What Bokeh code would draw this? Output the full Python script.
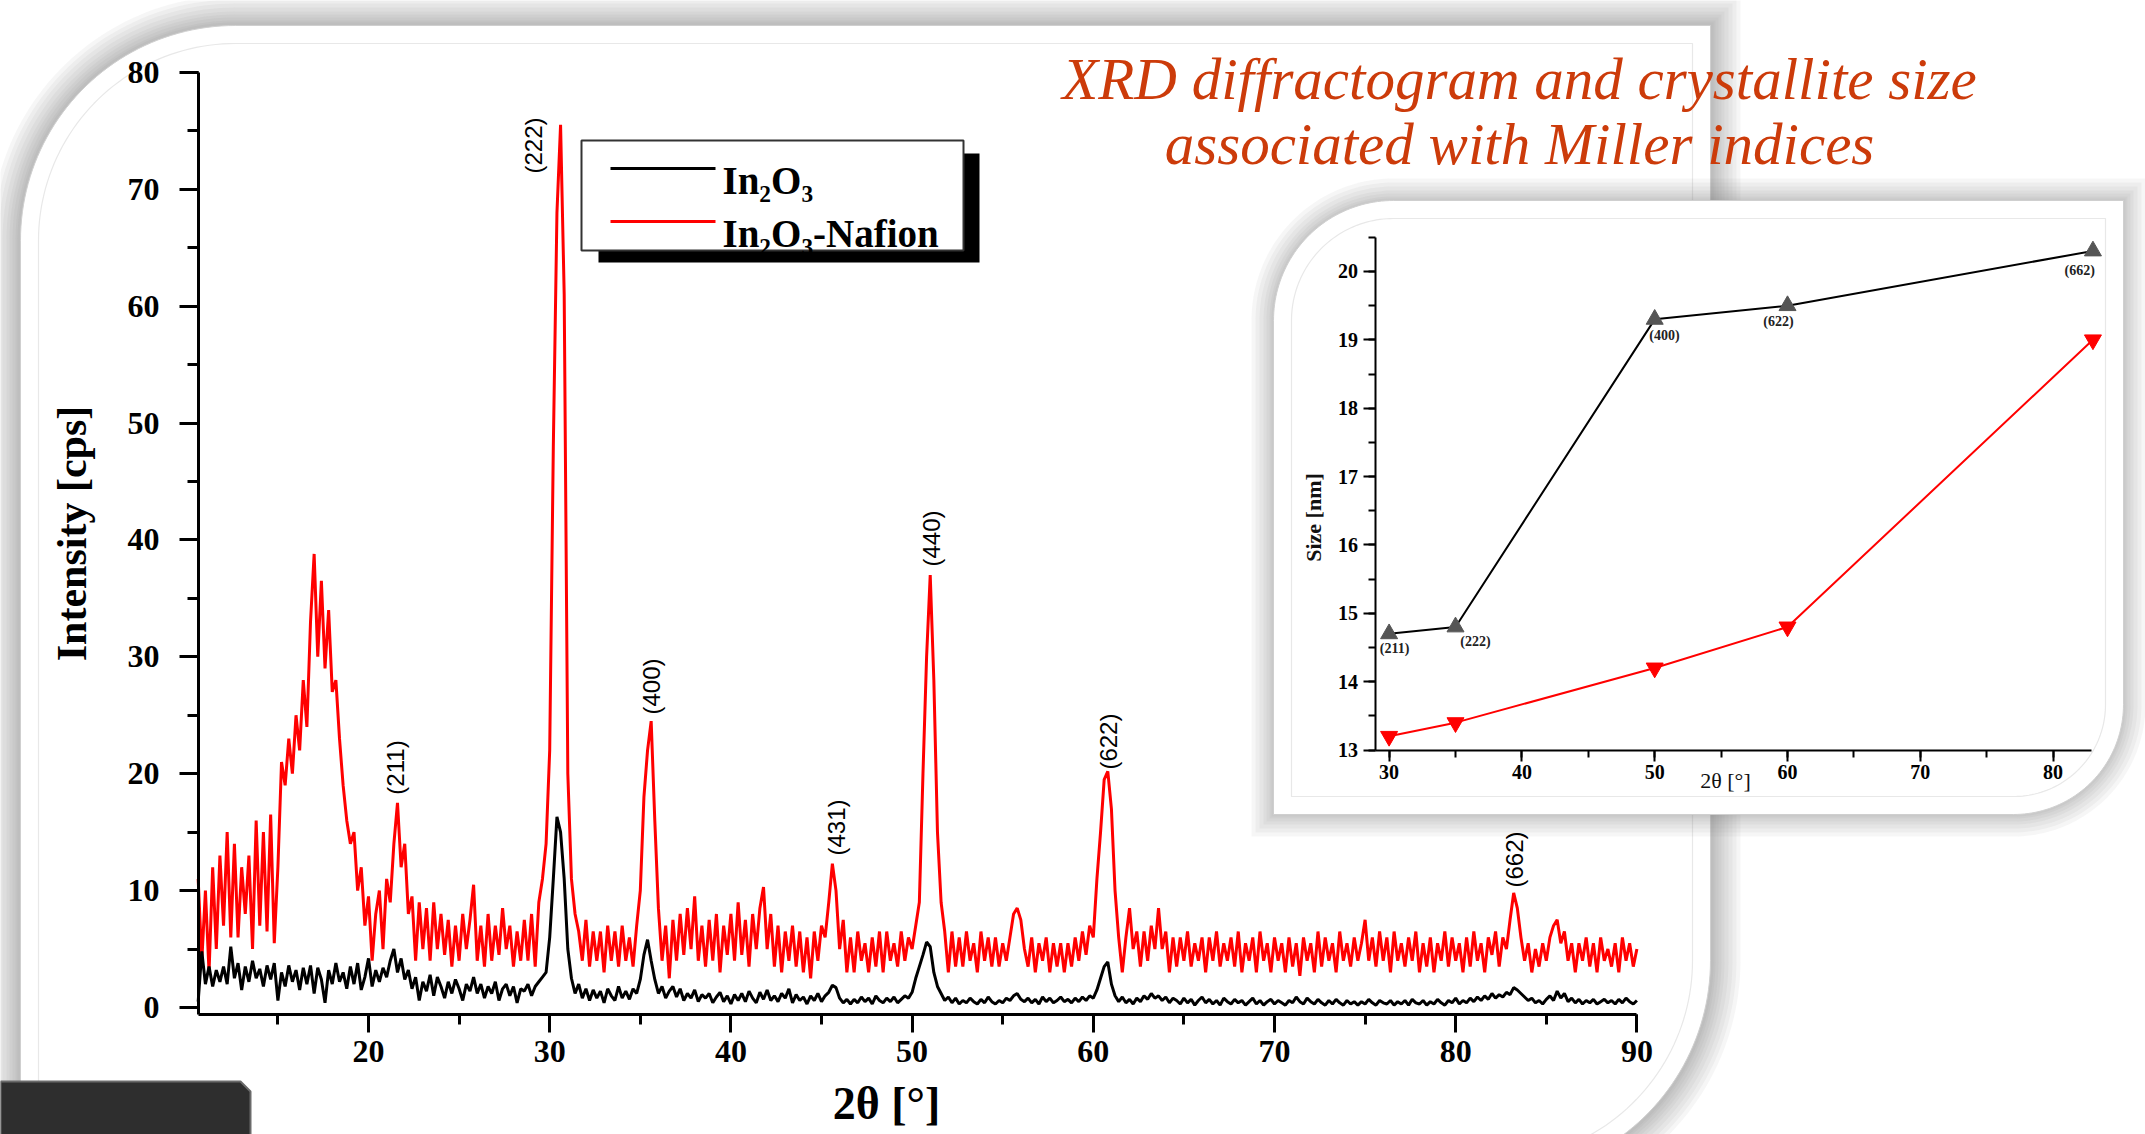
import math
import numpy as np
from bokeh.plotting import figure
from bokeh.models import Range1d, LinearAxis, SingleIntervalTicker, ColumnDataSource
from bokeh.core.properties import value
from bokeh.embed import file_html
from bokeh.resources import INLINE

# ---------------- data ----------------
TT_START = 10.6   # first 2-theta sample [deg]
TT_STEP = 0.2     # 2-theta sampling step [deg]

intensity_nafion = [
    11, 4, 10, 3, 12, 5, 13, 7, 15, 6,
    14, 6, 12, 8, 13, 5, 16, 7, 15, 6.5,
    16.5, 5.5, 12, 21, 19, 23, 20, 25, 22, 28,
    24, 33, 38.8, 30, 36.5, 29, 34, 27, 28, 23,
    19, 16, 14, 15, 10, 12, 7, 9.5, 4, 8,
    10, 5, 11, 9, 14, 17.5, 12, 14, 8, 9.5,
    4, 9, 5, 8.5, 4, 9, 5, 8, 4.5, 7.5,
    3.5, 7, 4, 8, 5, 7.5, 10.5, 4, 7, 3.5,
    8, 4, 7, 4.5, 8.5, 5, 7, 3.5, 6.5, 4,
    7.5, 4, 8, 3.5, 9, 11, 14, 22, 48, 68,
    75.5, 61, 20, 11, 8, 6.5, 4, 7.5, 3.5, 6.5,
    4, 6.5, 3, 7, 4, 6.5, 3.5, 7, 4, 6,
    3.5, 7, 10, 18, 22, 24.5, 16, 8.5, 4, 7,
    2.5, 7.5, 4, 8, 4.5, 8.5, 5, 9.5, 4, 7,
    3.5, 7.5, 4, 8, 3, 7, 4.5, 8, 4, 9,
    4.5, 7.5, 3.5, 8, 5, 8.5, 10.3, 5, 8, 3.5,
    7, 3, 6.5, 4, 7, 3.5, 6.5, 3, 6, 2.5,
    6.5, 4, 7, 6, 9, 12.3, 10, 5, 7.5, 3,
    6, 3, 6.5, 4, 5.5, 3, 6, 3.5, 6.5, 3,
    6.5, 4, 5.5, 3.5, 6.5, 4, 6, 5, 7, 9,
    20, 30, 37, 28, 15, 9, 6.5, 3, 6.5, 3.5,
    6, 3.5, 6.5, 4, 5.5, 3, 6.5, 4, 6, 3.5,
    6, 3.5, 5.5, 4, 6, 8, 8.5, 7.5, 5, 3.5,
    6, 3, 5.5, 4, 6, 3, 5.5, 3.5, 5.5, 3,
    5.5, 3.5, 6, 4, 6.5, 4.5, 7, 6, 11, 15,
    19.5, 20.2, 17, 10, 6, 3, 6, 8.5, 5, 6.5,
    3.5, 6.5, 4, 7, 5, 8.5, 5, 6.5, 3, 6,
    3.5, 6, 4, 6.5, 3.5, 5.5, 4, 6, 3, 6,
    4, 6.5, 3.5, 5.5, 4, 6, 3.5, 6.5, 3, 5.5,
    4, 6, 3, 6.5, 4, 5.5, 3, 6, 4, 5.5,
    3, 6, 3.5, 5.5, 2.7, 6, 4, 5.5, 3, 6.5,
    3.5, 6, 4, 5.5, 3, 6.5, 4, 5.5, 3.5, 6,
    4, 5.5, 7.5, 4, 6, 3.5, 6.5, 4, 6, 3,
    6.5, 4, 5.5, 3.5, 6, 4, 6.5, 3, 5.5, 3.5,
    6, 3, 5.5, 4, 6.5, 3.5, 6, 4, 5.5, 3,
    6, 3.5, 6.5, 4, 5.5, 3, 6, 4.5, 6.5, 3.5,
    6, 5, 7.5, 9.8, 8.5, 6, 4, 5.5, 3, 5,
    3.5, 5.5, 4, 6, 7, 7.5, 5.5, 6.5, 4, 5.5,
    3, 5.5, 4, 6, 3.5, 5.5, 3, 6, 4, 5,
    3.5, 5.5, 3, 6, 4, 5.5, 3.5, 5,
]

intensity_in2o3 = [
    0.5, 4.8, 2, 3.5, 1.8, 3.2, 2.2, 3.5, 2, 5.2,
    2.5, 3.8, 1.5, 3.5, 2.2, 4, 2.5, 3.3, 1.8, 3.6,
    2.4, 3.8, 0.6, 3, 1.8, 3.6, 2.2, 3.2, 1.5, 3.4,
    2, 3.6, 1.2, 3.4, 2.4, 0.4, 3.2, 2, 3.8, 2.2,
    3, 1.6, 3.5, 2, 3.8, 1.5, 2.6, 4.2, 1.8, 3.2,
    2.2, 3.4, 2.6, 4, 5, 3, 4.2, 2.4, 3.2, 1.6,
    2.6, 0.6, 2.2, 1.4, 2.8, 1, 2.6, 1.8, 0.8, 2.2,
    1.2, 2.4, 1.6, 0.6, 2, 1.4, 2.6, 1.2, 2, 0.8,
    1.8, 1.2, 2.2, 0.6, 1.6, 2, 1, 1.8, 0.4, 1.6,
    1.4, 2, 1, 1.8, 2.2, 2.6, 3, 6, 11, 16.3,
    15, 11, 5, 2.5, 1.2, 2, 0.8, 1.6, 0.6, 1.5,
    0.8, 1.4, 0.4, 1.6, 1, 0.6, 1.8, 0.8, 1.4, 0.7,
    1.6, 1.2, 2.4, 4.5, 5.8, 4, 2.4, 1.2, 1.8, 0.8,
    1.4, 1.8, 0.9, 1.6, 0.6, 1.2, 0.8, 1.5, 0.5, 1.1,
    0.8, 1.2, 0.4, 0.9, 1.3, 0.5, 1, 0.3, 1.1, 0.6,
    1.2, 0.5, 1.4, 0.8, 0.4, 1.3, 0.7, 1.5, 0.6, 1,
    0.5, 1.2, 0.8, 1.6, 0.4, 1.1, 0.6, 0.9, 0.3, 1,
    0.6, 1.2, 0.5, 1, 1.3, 1.9, 1.7, 0.8, 0.4, 0.7,
    0.3, 0.7, 0.4, 0.9, 0.5, 0.8, 0.3, 1, 0.6, 0.4,
    0.8, 0.5, 0.9, 0.4, 0.7, 1, 0.8, 1.3, 2.5, 3.5,
    4.5, 5.6, 5.2, 3, 1.8, 1.2, 0.6, 0.9, 0.4, 0.8,
    0.3, 0.6, 0.4, 0.8, 0.5, 0.3, 0.7, 0.4, 0.9, 0.5,
    0.3, 0.6, 0.4, 0.8, 0.6, 1, 1.2, 0.7, 0.5, 0.8,
    0.4, 0.7, 0.3, 0.9, 0.5, 0.8, 0.4, 0.6, 0.9, 0.5,
    0.7, 0.4, 0.8, 0.5, 0.9, 0.6, 1, 0.8, 1.5, 2.5,
    3.5, 3.9, 2, 1, 0.5, 0.9, 0.4, 0.7, 0.3, 0.8,
    0.5, 1, 0.7, 1.2, 0.8, 1, 0.6, 0.9, 0.4, 0.8,
    0.6, 0.3, 0.8, 0.4, 0.7, 0.2, 0.6, 0.9, 0.4, 0.7,
    0.3, 0.6, 0.2, 0.8, 0.5, 0.3, 0.7, 0.4, 0.6, 0.2,
    0.5, 0.8, 0.3, 0.6, 0.2, 0.5, 0.7, 0.3, 0.6, 0.4,
    0.2, 0.6, 0.4, 0.9, 0.5, 0.3, 0.8, 0.5, 0.3, 0.7,
    0.4, 0.2, 0.6, 0.3, 0.7, 0.4, 0.2, 0.6, 0.3, 0.5,
    0.2, 0.5, 0.3, 0.7, 0.4, 0.2, 0.6, 0.4, 0.3, 0.6,
    0.2, 0.5, 0.3, 0.6, 0.2, 0.7, 0.4, 0.3, 0.6, 0.2,
    0.5, 0.3, 0.7, 0.4, 0.2, 0.6, 0.4, 0.8, 0.3, 0.6,
    0.4, 0.8, 0.5, 0.9, 0.6, 1, 0.7, 1.2, 0.8, 1.1,
    0.9, 1.3, 1.1, 1.7, 1.5, 1.2, 0.9, 0.6, 0.8, 0.4,
    0.6, 0.3, 0.7, 1, 0.6, 1.4, 0.8, 1.2, 0.5, 0.8,
    0.4, 0.7, 0.3, 0.6, 0.4, 0.7, 0.3, 0.5, 0.7, 0.4,
    0.6, 0.3, 0.7, 0.4, 0.8, 0.5, 0.3, 0.6,
]

series_names = ["In\u2082O\u2083", "In\u2082O\u2083-Nafion"]

miller_main = ["(211)", "(222)", "(400)", "(431)", "(440)", "(622)", "(662)"]
miller_label_x = [21.49, 29.11, 35.62, 45.83, 51.07, 60.84, 83.25]
miller_label_y = [20.53, 73.74, 27.46, 15.40, 40.12, 22.75, 12.66]

inset_two_theta = [30, 35, 50, 60, 83]
size_in2o3 = [14.7, 14.8, 19.3, 19.5, 20.3]
size_nafion = [13.2, 13.4, 14.2, 14.8, 19.0]
inset_miller = ["(211)", "(222)", "(400)", "(622)", "(662)"]
inset_label_x = [30.41, 36.5, 50.74, 59.32, 82.0]
inset_label_y = [14.48, 14.59, 19.06, 19.27, 20.01]

title_lines = ["XRD diffractogram and crystallite size", "associated with Miller indices"]

two_theta = [round(TT_START + TT_STEP * i, 2) for i in range(len(intensity_in2o3))]

# ---------------- geometry helpers (page pixels -> data) ----------------
def X(px):
    return 20 + (px - 368) / 18.12

def Y(py):
    return (1007 - py) / 11.69

def IX(px):
    return 30 + (px - 1388.6) / 13.28

def IY(py):
    return 13 + (749.5 - py) / 68.36

OFF = 0
W, H = 2145, 1134
p = figure(width=W, height=H, x_range=Range1d(X(OFF), X(OFF + W)), y_range=Range1d(Y(OFF + H), Y(OFF)),
           x_axis_location=None, y_axis_location=None, toolbar_location=None,
           output_backend="svg", min_border=0, outline_line_color=None,
           background_fill_color="white", border_fill_color="white")
p.min_border_left = p.min_border_right = p.min_border_top = p.min_border_bottom = 0
p.extra_x_ranges = {"ix": Range1d(IX(OFF), IX(OFF + W))}
p.extra_y_ranges = {"iy": Range1d(IY(OFF + H), IY(OFF))}
p.grid.visible = False


def panel_shape(l, t, r, b, rtl, rbr, n=48):
    pts = []
    for a in np.linspace(math.pi, 1.5 * math.pi, n):
        pts.append((l + rtl + rtl * math.cos(a), t + rtl + rtl * math.sin(a)))
    pts.append((r, t))
    for a in np.linspace(0, 0.5 * math.pi, n):
        pts.append((r - rbr + rbr * math.cos(a), b - rbr + rbr * math.sin(a)))
    pts.append((l, b))
    return [X(a) for a, _ in pts], [Y(b_) for _, b_ in pts]


def draw_panel(l, t, r, b, rtl, rbr, shadow, inner):
    for d in shadow:
        xs, ys = panel_shape(l - d, t - d, r + d, b + d, rtl + d, rbr + d)
        p.patch(xs, ys, fill_color="#777777", fill_alpha=0.065, line_color=None)
    xs, ys = panel_shape(l, t, r, b, rtl, rbr)
    p.patch(xs, ys, fill_color="white", line_color="#cfcfcf", line_width=1)
    xs, ys = panel_shape(l + inner, t + inner, r - inner, b - inner, rtl - inner, max(rbr - inner, 5))
    p.patch(xs, ys, fill_color=None, line_color="#e8e8e8", line_width=1.2)


# main slide panel and inset panel
draw_panel(20, 25, 1710, 1178, 215, 218, [30, 26, 22, 18, 14, 11, 8, 5, 3], 18)
draw_panel(1273, 200, 2123, 814, 120, 110, [22, 18, 14, 10, 7, 4, 2], 18)

# dark strip bottom-left
p.patch([X(0), X(240), X(250), X(250), X(0)], [Y(1081), Y(1081), Y(1091), Y(1140), Y(1140)],
        fill_color="#2e2e2e", line_color="#6a6a6a", line_width=2)

# ---------------- main XRD chart ----------------
src = ColumnDataSource(dict(tt=two_theta, a=intensity_in2o3, b=intensity_nafion))
p.line("tt", "b", source=src, line_color="#ff0000", line_width=3)
p.line("tt", "a", source=src, line_color="#000000", line_width=3)

lab_src = ColumnDataSource(dict(x=miller_label_x, y=miller_label_y, t=miller_main))
p.text("x", "y", text="t", source=lab_src, angle=math.pi / 2, text_align="center",
       text_baseline="middle", text_font=value("Liberation Sans"), text_font_size="24px",
       text_color="#000000")

# legend
p.quad(left=X(598), right=X(979), top=Y(153), bottom=Y(262), fill_color="black", line_color=None)
p.quad(left=X(581), right=X(963), top=Y(140), bottom=Y(250), fill_color="white",
       line_color="#333333", line_width=2)
p.line([X(610), X(715)], [Y(168), Y(168)], line_color="black", line_width=3)
p.line([X(610), X(715)], [Y(221), Y(221)], line_color="#ff0000", line_width=3)
p.text([X(722), X(722)], [Y(180), Y(233)], text=series_names, text_align="left",
       text_baseline="alphabetic", text_font=value("Liberation Serif"), text_font_style="bold",
       text_font_size="39px", text_color="black")

# main axes
def style_axis(ax, lw, tout, mout, fs, standoff):
    ax.axis_line_width = lw
    ax.major_tick_line_width = lw
    ax.minor_tick_line_width = lw
    ax.major_tick_in = 0
    ax.minor_tick_in = 0
    ax.major_tick_out = tout
    ax.minor_tick_out = mout
    ax.major_label_text_font = "Liberation Serif"
    ax.major_label_text_font_style = "bold"
    ax.major_label_text_font_size = fs
    ax.major_label_text_color = "black"
    ax.major_label_standoff = standoff

y_main = LinearAxis(fixed_location=X(198), bounds=(Y(1014), 80),
                    ticker=SingleIntervalTicker(interval=10, num_minor_ticks=2))
style_axis(y_main, 3, 19, 11, "32px", 20)
p.add_layout(y_main, "left")

x_main = LinearAxis(fixed_location=Y(1014), bounds=(X(198), 90),
                    ticker=SingleIntervalTicker(interval=10, num_minor_ticks=2))
style_axis(x_main, 3, 18, 10, "32px", 8)
p.add_layout(x_main, "below")

p.text([X(71)], [Y(533)], text=["Intensity [cps]"], angle=math.pi / 2, text_align="center",
       text_baseline="middle", text_font=value("Liberation Serif"), text_font_style="bold",
       text_font_size="42px", text_color="black")
p.text([X(886)], [Y(1103)], text=["2\u03b8 [\u00b0]"], text_align="center",
       text_baseline="middle", text_font=value("Liberation Serif"), text_font_style="bold",
       text_font_size="46px", text_color="black")

# ---------------- inset: crystallite size ----------------
p.line(inset_two_theta, size_in2o3, line_color="black", line_width=2, x_range_name="ix", y_range_name="iy")
p.scatter(inset_two_theta, size_in2o3, marker="triangle", size=17, fill_color="#555555",
          line_color="#555555", x_range_name="ix", y_range_name="iy")
p.line(inset_two_theta, size_nafion, line_color="#ff0000", line_width=2, x_range_name="ix", y_range_name="iy")
p.scatter(inset_two_theta, size_nafion, marker="inverted_triangle", size=17, fill_color="#ff0000",
          line_color="#ff0000", x_range_name="ix", y_range_name="iy")
p.text(inset_label_x, inset_label_y, text=inset_miller, text_align="center", text_baseline="middle",
       text_font=value("Liberation Serif"), text_font_style="bold", text_font_size="14px",
       text_color="#222222", x_range_name="ix", y_range_name="iy")

y_in = LinearAxis(x_range_name="ix", y_range_name="iy", fixed_location=IX(1374.5), bounds=(13, 20.5),
                  ticker=SingleIntervalTicker(interval=1, num_minor_ticks=2))
style_axis(y_in, 2, 12, 7, "20px", 5)
p.add_layout(y_in, "left")
x_in = LinearAxis(x_range_name="ix", y_range_name="iy", fixed_location=13, bounds=(IX(1374.5), IX(2091)),
                  ticker=SingleIntervalTicker(interval=10, num_minor_ticks=2))
style_axis(x_in, 2, 11, 7, "20px", 4)
p.add_layout(x_in, "below")

p.text([X(1313)], [Y(517)], text=["Size [nm]"], angle=math.pi / 2, text_align="center",
       text_baseline="middle", text_font=value("Liberation Serif"), text_font_style="bold",
       text_font_size="22px", text_color="#111111")
p.text([X(1725)], [Y(780)], text=["2\u03b8 [\u00b0]"], text_align="center",
       text_baseline="middle", text_font=value("Liberation Serif"),
       text_font_size="22px", text_color="#111111")

# ---------------- title ----------------
p.text([X(1519), X(1519)], [Y(78), Y(143)], text=title_lines, text_align="center",
       text_baseline="alphabetic", text_font=value("Liberation Serif"), text_font_style="italic",
       text_font_size="59px", text_color="#cc3b0a")

open("out.html", "w").write(file_html(p, INLINE))
